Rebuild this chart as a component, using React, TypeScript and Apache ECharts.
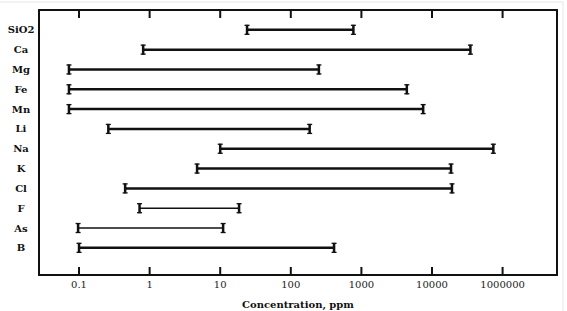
import React, { useEffect, useRef } from "react";
import * as echarts from "echarts";

const categories = ["SiO2", "Ca", "Mg", "Fe", "Mn", "Li", "Na", "K", "Cl", "F", "As", "B"];
const lowValues = [24, 0.81, 0.072, 0.072, 0.072, 0.26, 10, 4.7, 0.45, 0.72, 0.097, 0.1];
const highValues = [770, 35000, 250, 4400, 7500, 185, 74000, 18600, 19200, 18.5, 11, 410];
const tickValues = [0.1, 1, 10, 100, 1000, 10000, 100000];
const tickLabels = ["0.1", "1", "10", "100", "1000", "10000", "1000000"];
const thinRows = ["F", "As"];
const axisTitle = "Concentration, ppm";

const X_MIN = 0.0271;
const X_MAX = 590000;
const Y_MIN = -1;
const Y_MAX = 12.37;

function formatTick(v: number): string {
  const l = Math.log10(v);
  for (let i = 0; i < tickValues.length; i++) {
    if (Math.abs(Math.log10(tickValues[i]) - l) < 1e-6) return tickLabels[i];
  }
  return "";
}

export default function App() {
  const ref = useRef<HTMLDivElement>(null);
  useEffect(() => {
    if (!ref.current) return;
    const chart = echarts.init(ref.current, null, { renderer: "svg" });
    const data = categories.map((c, i) => [lowValues[i], highValues[i], i]);
    const ink = "#111";
    const frameLine = { show: true, onZero: false, lineStyle: { color: ink, width: 2 } };
    const option: any = {
      animation: false,
      backgroundColor: "#fff",
      grid: {
        left: 39,
        right: 10,
        top: 10,
        bottom: 36,
        show: false,
        containLabel: false,
        outerBoundsMode: "none",
      },
      xAxis: [
        {
          type: "log",
          logBase: 10,
          min: X_MIN,
          max: X_MAX,
          position: "bottom",
          axisLine: frameLine,
          splitLine: { show: false },
          axisTick: { show: false },
          axisLabel: {
            show: true,
            margin: 4,
            fontFamily: "DejaVu Serif",
            fontSize: 10,
            color: "#222",
            formatter: (v: number) => formatTick(v),
          },
          name: axisTitle,
          nameLocation: "middle",
          nameGap: 24,
          nameTextStyle: {
            fontFamily: "DejaVu Serif",
            fontWeight: "bold",
            fontSize: 10,
            color: "#111",
            verticalAlign: "top",
          },
        },
        {
          type: "log",
          logBase: 10,
          min: X_MIN,
          max: X_MAX,
          position: "top",
          axisLine: frameLine,
          splitLine: { show: false },
          axisTick: { show: false },
          axisLabel: { show: false },
        },
      ],
      yAxis: [
        {
          type: "value",
          inverse: true,
          min: Y_MIN,
          max: Y_MAX,
          interval: 1,
          position: "left",
          axisLine: frameLine,
          axisTick: { show: false },
          splitLine: { show: false },
          axisLabel: {
            align: "center",
            margin: 18,
            fontFamily: "DejaVu Serif",
            fontWeight: "bold",
            fontSize: 10,
            color: "#111",
            formatter: (v: number) => {
              const i = Math.round(v);
              if (Math.abs(v - i) > 1e-6) return "";
              return categories[i] ?? "";
            },
          },
        },
        {
          type: "value",
          inverse: true,
          min: Y_MIN,
          max: Y_MAX,
          interval: 1,
          position: "right",
          axisLine: frameLine,
          axisTick: { show: false },
          splitLine: { show: false },
          axisLabel: { show: false },
        },
      ],
      graphic: [
        {
          type: "rect",
          shape: { x: -1, y: 2, width: 564, height: 320 },
          style: { fill: "none", stroke: "#e6e6e6", lineWidth: 1 },
          silent: true,
          z: -10,
        },
      ],
      series: [
        {
          type: "custom",
          xAxisIndex: 0,
          yAxisIndex: 0,
          encode: { x: [0, 1], y: 2 },
          data,
          renderItem: (params: any, api: any) => {
            const lo = api.value(0);
            const hi = api.value(1);
            const row = api.value(2);
            const p1 = api.coord([lo, row]);
            const p2 = api.coord([hi, row]);
            const thin = thinRows.includes(categories[row]);
            const lw = thin ? 1.5 : 2.5;
            const cap = (x: number, y: number) => [
              { type: "line", shape: { x1: x, y1: y - 5, x2: x, y2: y + 5 }, style: { stroke: ink, lineWidth: 2.5 } },
              { type: "line", shape: { x1: x - 2.5, y1: y - 4.5, x2: x + 2.5, y2: y - 4.5 }, style: { stroke: ink, lineWidth: 1.3 } },
              { type: "line", shape: { x1: x - 2.5, y1: y + 4.5, x2: x + 2.5, y2: y + 4.5 }, style: { stroke: ink, lineWidth: 1.3 } },
            ];
            const ticks: any[] = [];
            if (params.dataIndex === 0) {
              tickValues.forEach((tv) => {
                const pt = api.coord([tv, Y_MIN]);
                const pb = api.coord([tv, Y_MAX]);
                ticks.push(
                  { type: "line", shape: { x1: pt[0], y1: pt[1], x2: pt[0], y2: pt[1] + 8 }, style: { stroke: ink, lineWidth: 2 } },
                  { type: "line", shape: { x1: pb[0], y1: pb[1] - 8, x2: pb[0], y2: pb[1] }, style: { stroke: ink, lineWidth: 2 } }
                );
              });
            }
            return {
              type: "group",
              children: [
                { type: "line", shape: { x1: p1[0], y1: p1[1], x2: p2[0], y2: p2[1] }, style: { stroke: ink, lineWidth: lw } },
                ...cap(p1[0], p1[1]),
                ...cap(p2[0], p2[1]),
                ...ticks,
              ],
            };
          },
        },
      ],
    };
    chart.setOption(option);
    return () => chart.dispose();
  }, []);
  return (
    <div
      ref={ref}
      style={{ position: "absolute", left: 0, top: 0, width: 567, height: 311 }}
    />
  );
}
